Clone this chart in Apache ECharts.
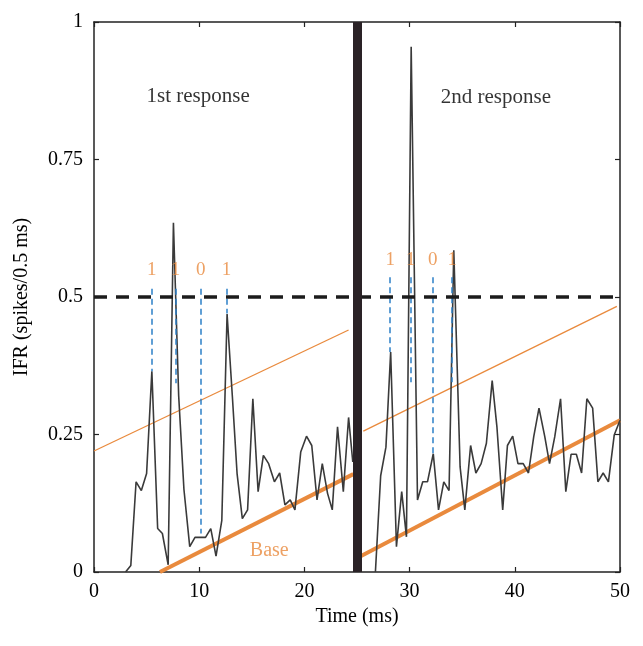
<!DOCTYPE html>
<html>
<head>
<meta charset="utf-8">
<script src="https://cdn.jsdelivr.net/npm/echarts@6/dist/echarts.min.js"></script>
<style>
html, body { margin: 0; padding: 0; background: #fff; }
#chart { width: 643px; height: 646px; }
</style>
</head>
<body>
<div id="chart"></div>
<script>
// time (ms) and IFR values
var time1 = [3.0, 3.5, 4.0, 4.5, 5.0, 5.5, 6.05, 6.5, 7.05, 7.55, 8.05, 8.55, 9.1, 9.6, 10.1, 10.6, 11.1, 11.6, 12.15, 12.65,
	13.15, 13.6, 14.1, 14.6, 15.1, 15.6, 16.1, 16.6, 17.15, 17.65, 18.15, 18.65, 19.1, 19.65, 20.2, 20.7, 21.2, 21.7,
	22.2, 22.65, 23.15, 23.7, 24.2, 24.6];
var ifr1 = [0, 0.012, 0.164, 0.148, 0.179, 0.365, 0.079, 0.07, 0.013, 0.635, 0.32, 0.15, 0.046, 0.063, 0.063, 0.063, 0.079, 0.029, 0.094, 0.469,
	0.32, 0.179, 0.097, 0.113, 0.315, 0.146, 0.212, 0.197, 0.164, 0.18, 0.122, 0.131, 0.113, 0.218, 0.247, 0.23, 0.131, 0.197,
	0.143, 0.113, 0.264, 0.146, 0.281, 0.2];

var time2 = [26.75, 27.25, 27.75, 28.2, 28.75, 29.25, 29.7, 30.15, 30.75, 31.25, 31.7, 32.25, 32.75, 33.25, 33.75, 34.2, 34.8,
	35.25, 35.8, 36.3, 36.8, 37.3, 37.85, 38.3, 38.85, 39.3, 39.8, 40.3, 40.8, 41.3, 41.8, 42.3, 42.85, 43.3, 43.8,
	44.35, 44.85, 45.35, 45.85, 46.35, 46.85, 47.4, 47.9, 48.4, 48.9, 49.45, 50.0];
var ifr2 = [0, 0.175, 0.227, 0.40, 0.046, 0.146, 0.064, 0.955, 0.131, 0.164, 0.164, 0.215, 0.113, 0.164, 0.148, 0.585, 0.191,
	0.113, 0.23, 0.18, 0.197, 0.234, 0.348, 0.264, 0.113, 0.23, 0.247, 0.197, 0.197, 0.18, 0.246, 0.298, 0.246, 0.197, 0.246,
	0.315, 0.146, 0.214, 0.214, 0.18, 0.315, 0.298, 0.164, 0.18, 0.164, 0.249, 0.276];

var threshold = 0.5;
var stimTime = 25;

// code digits and the blue markers under them
var codes = ['1', '1', '0', '1'];
var markTime1 = [5.5, 7.75, 10.15, 12.6];
var markLow1 = [0.365, 0.343, 0.07, 0.47];
var markTop1 = 0.515;
var codeY1 = 0.549;
var markTime2 = [28.15, 30.1, 32.2, 34.05];
var markLow2 = [0.40, 0.345, 0.215, 0.345];
var markTop2 = 0.536;
var codeY2 = 0.567;

// orange reference lines [[t0, y0], [t1, y1]]
var upper1 = [[0, 0.22], [24.2, 0.44]];
var upper2 = [[25.6, 0.256], [49.7, 0.483]];
var base1 = [[6.27, 0], [24.65, 0.178]];
var base2 = [[25.3, 0.028], [50, 0.276]];

var labels = [
	[9.9, 0.865, '1st response'],
	[38.2, 0.862, '2nd response']
];
var baseLabel = [[16.66, 0.039, 'Base']];

var xTicks = [0, 10, 20, 30, 40, 50];
var yTicks = [0, 0.25, 0.5, 0.75, 1];

var serif = 'Liberation Serif';
var orange = '#e98a3d';
var blue = '#2b7fc7';

function pairs(xs, ys) {
	var out = [];
	for (var i = 0; i < xs.length; i++) {
		out.push([xs[i], ys[i]]);
	}
	return out;
}

function markSegments(ts, lows, top) {
	var out = [];
	for (var i = 0; i < ts.length; i++) {
		out.push({ coords: [[ts[i], top], [ts[i], lows[i]]] });
	}
	return out;
}

function codeLabels(ts, y) {
	var out = [];
	for (var i = 0; i < ts.length; i++) {
		out.push([ts[i], y, codes[i]]);
	}
	return out;
}

function textSeries(data, color, size) {
	return {
		type: 'scatter',
		symbolSize: 0,
		silent: true,
		z: 10,
		data: data,
		label: {
			show: true,
			position: 'inside',
			color: color,
			fontFamily: serif,
			fontSize: size,
			formatter: function (p) { return p.value[2]; }
		}
	};
}

function segSeries(data, color, width, type, z) {
	return {
		type: 'lines',
		coordinateSystem: 'cartesian2d',
		silent: true,
		z: z,
		data: data,
		lineStyle: { color: color, width: width, type: type, opacity: 1 }
	};
}

var axisLine = { show: true, onZero: false, lineStyle: { color: '#222', width: 1.5 } };
var axisTick = { show: true, inside: true, length: 5, lineStyle: { color: '#222', width: 1.2 } };

var chart = echarts.init(document.getElementById('chart'));
var option = {
	animation: false,
	backgroundColor: '#fff',
	grid: { left: 94, right: 23, top: 22, bottom: 74, outerBoundsMode: 'none', containLabel: false },
	xAxis: [{
		type: 'value',
		min: 0, max: 50, interval: 10,
		name: 'Time (ms)',
		nameLocation: 'middle',
		nameGap: 34,
		nameTextStyle: { color: '#000', fontFamily: serif, fontSize: 20 },
		axisLine: axisLine,
		axisTick: axisTick,
		splitLine: { show: false },
		axisLabel: { color: '#000', fontFamily: serif, fontSize: 20, margin: 10,
			formatter: function (v) { return xTicks.indexOf(v) >= 0 ? String(v) : ''; } }
	}, {
		type: 'value', position: 'top',
		min: 0, max: 50, interval: 10,
		axisLine: axisLine,
		axisTick: axisTick,
		splitLine: { show: false },
		axisLabel: { show: false }
	}],
	yAxis: [{
		type: 'value',
		min: 0, max: 1, interval: 0.25,
		name: 'IFR (spikes/0.5 ms)',
		nameLocation: 'middle',
		nameGap: 62,
		nameRotate: 90,
		nameTextStyle: { color: '#000', fontFamily: serif, fontSize: 20 },
		axisLine: axisLine,
		axisTick: axisTick,
		splitLine: { show: false },
		axisLabel: { color: '#000', fontFamily: serif, fontSize: 20, margin: 11,
			formatter: function (v) { return yTicks.indexOf(v) >= 0 ? String(v) : ''; } }
	}, {
		type: 'value', position: 'right',
		min: 0, max: 1, interval: 0.25,
		axisLine: axisLine,
		axisTick: axisTick,
		splitLine: { show: false },
		axisLabel: { show: false }
	}],
	series: [
		segSeries([{ coords: upper1 }, { coords: upper2 }], orange, 1.3, 'solid', 2),
		segSeries([{ coords: base1 }, { coords: base2 }], orange, 4, 'solid', 2),
		{
			type: 'line', data: pairs(time1, ifr1), symbol: 'none', z: 3, silent: true,
			lineStyle: { color: '#3a3a3a', width: 1.6 }
		},
		{
			type: 'line', data: pairs(time2, ifr2), symbol: 'none', z: 3, silent: true,
			lineStyle: { color: '#3a3a3a', width: 1.6 }
		},
		segSeries(markSegments(markTime1, markLow1, markTop1).concat(markSegments(markTime2, markLow2, markTop2)),
			blue, 1.5, [6, 4], 4),
		segSeries([{ coords: [[0, threshold], [50, threshold]] }], '#1c1c1c', 3.5, [13, 9], 5),
		segSeries([{ coords: [[stimTime, 0], [stimTime, 1]] }], '#2a2226', 9, 'solid', 6),
		textSeries(codeLabels(markTime1, codeY1).concat(codeLabels(markTime2, codeY2)), orange, 19),
		textSeries(labels, '#000', 21),
		textSeries(baseLabel, orange, 20)
	]
};
chart.setOption(option);
</script>
</body>
</html>
